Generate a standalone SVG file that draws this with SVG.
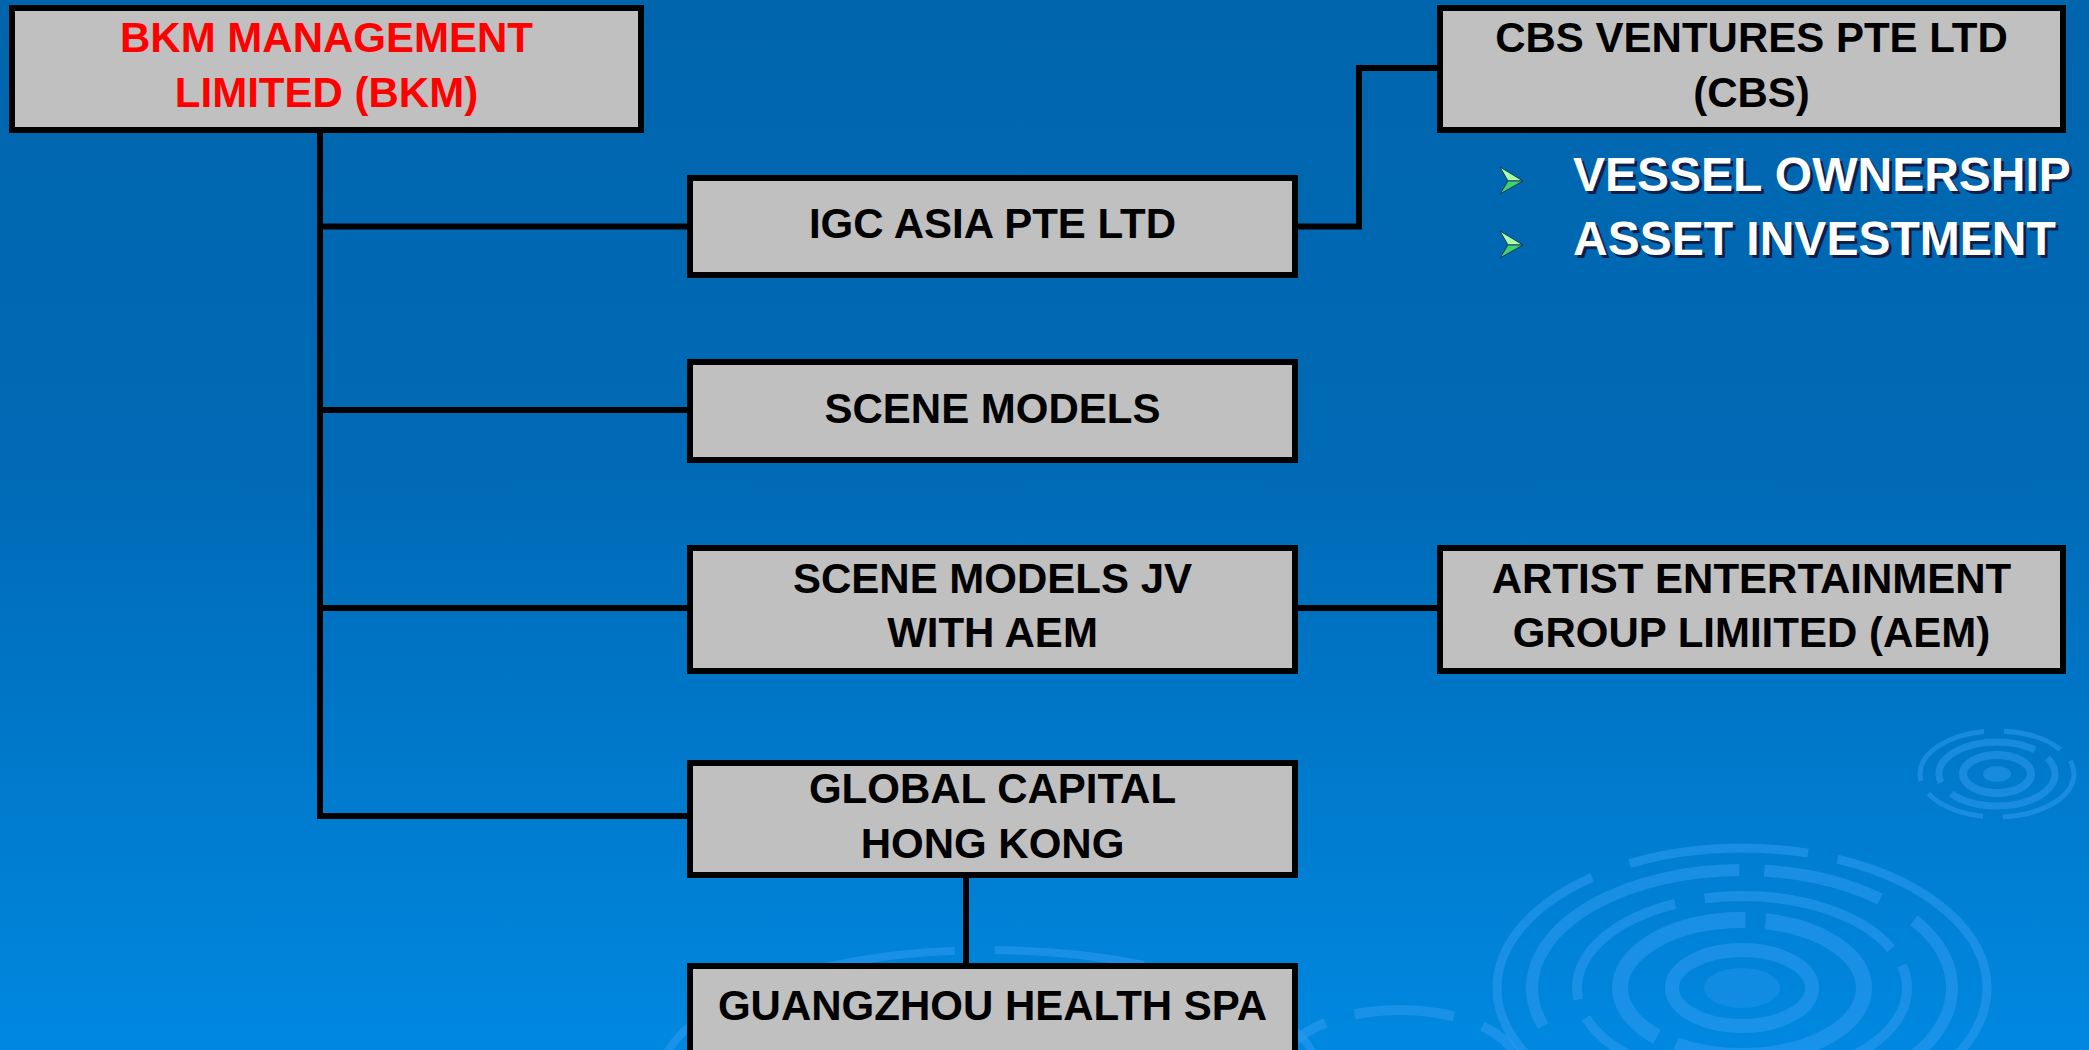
<svg xmlns="http://www.w3.org/2000/svg" width="2089" height="1050" viewBox="0 0 2089 1050">
<defs>
<linearGradient id="bg" x1="0" y1="0" x2="0" y2="1">
<stop offset="0" stop-color="#0065AD"/>
<stop offset="0.45" stop-color="#006AB6"/>
<stop offset="1" stop-color="#0088E0"/>
</linearGradient>
<style>
.box{fill:#C0C0C0;stroke:#000;stroke-width:6}
.lbl{font-family:"Liberation Sans",Arial,sans-serif;font-weight:bold;font-size:42px;text-anchor:middle;fill:#000}
.red{fill:#FF0000}
.conn{stroke:#000;stroke-width:6;fill:none;stroke-linejoin:miter}
.bul{font-family:"Liberation Sans",Arial,sans-serif;font-weight:bold;font-size:48px;fill:#FFFFFF}
.shd{fill:#0A1F4A}
.rip{fill:none;stroke:#2E9BF0;stroke-opacity:0.55}
.arT{fill:#A8FFA8;stroke:#1E3A5A;stroke-width:1}
.arB{fill:#40D070;stroke:#1E3A5A;stroke-width:1}
</style>
</defs>
<rect x="0" y="0" width="2089" height="1050" fill="url(#bg)"/>
<g id="ripples">
<ellipse class="rip" cx="1742" cy="988" rx="245" ry="140" stroke-width="9" stroke-dasharray="260 40 180 30"/>
<ellipse class="rip" cx="1742" cy="988" rx="210" ry="118" stroke-width="12" stroke-dasharray="300 25 120 40"/>
<ellipse class="rip" cx="1742" cy="988" rx="165" ry="92" stroke-width="10" stroke-dasharray="150 30 200 20"/>
<ellipse class="rip" cx="1742" cy="988" rx="122" ry="68" stroke-width="16" stroke-dasharray="220 20"/>
<ellipse class="rip" cx="1742" cy="988" rx="70" ry="38" stroke-width="14"/>
<ellipse cx="1742" cy="988" rx="38" ry="20" fill="#2E9BF0" fill-opacity="0.35"/>
<ellipse class="rip" cx="1997" cy="774" rx="77" ry="43" stroke-width="5" stroke-dasharray="90 20 60 15"/>
<ellipse class="rip" cx="1997" cy="774" rx="58" ry="32" stroke-width="7" stroke-dasharray="120 15"/>
<ellipse class="rip" cx="1997" cy="774" rx="34" ry="19" stroke-width="8"/>
<ellipse cx="1997" cy="774" rx="14" ry="8" fill="#2E9BF0" fill-opacity="0.5"/>
<ellipse class="rip" cx="990" cy="1080" rx="330" ry="130" stroke-width="8" stroke-dasharray="200 40 150 60"/>
<ellipse class="rip" cx="1400" cy="1070" rx="120" ry="60" stroke-width="10" stroke-dasharray="100 30"/>
</g>
<g id="connectors">
<path class="conn" d="M320,133 V816 H687"/>
<path class="conn" d="M320,226.5 H687"/>
<path class="conn" d="M320,410 H687"/>
<path class="conn" d="M320,608 H687"/>
<path class="conn" d="M1298,226.5 H1359 V68 H1437"/>
<path class="conn" d="M1298,608 H1437"/>
<path class="conn" d="M966,878 V963"/>
</g>
<g id="bkm">
<rect class="box" x="12" y="8" width="629" height="122"/>
<text class="lbl red" x="326.5" y="52">BKM MANAGEMENT</text>
<text class="lbl red" x="326.5" y="107">LIMITED (BKM)</text>
</g>
<g id="cbs">
<rect class="box" x="1440" y="8" width="623" height="122"/>
<text class="lbl" x="1751.5" y="52">CBS VENTURES PTE LTD</text>
<text class="lbl" x="1751.5" y="107">(CBS)</text>
</g>
<g id="cbs-bullets">
<polygon class="arT" points="1500,167 1523,181 1508,181"/>
<polygon class="arB" points="1508,181 1523,181 1500,194"/>
<text class="bul shd" x="1576" y="194">VESSEL OWNERSHIP</text>
<text class="bul" x="1573" y="191">VESSEL OWNERSHIP</text>
<polygon class="arT" points="1500,231 1523,245 1508,245"/>
<polygon class="arB" points="1508,245 1523,245 1500,258"/>
<text class="bul shd" x="1576" y="258">ASSET INVESTMENT</text>
<text class="bul" x="1573" y="255">ASSET INVESTMENT</text>
</g>
<g id="igc">
<rect class="box" x="690" y="178" width="605" height="97"/>
<text class="lbl" x="992.5" y="238">IGC ASIA PTE LTD</text>
</g>
<g id="scene-models">
<rect class="box" x="690" y="362" width="605" height="98"/>
<text class="lbl" x="992.5" y="423">SCENE MODELS</text>
</g>
<g id="scene-models-jv">
<rect class="box" x="690" y="548" width="605" height="123"/>
<text class="lbl" x="992.5" y="593">SCENE MODELS JV</text>
<text class="lbl" x="992.5" y="647">WITH AEM</text>
</g>
<g id="aem">
<rect class="box" x="1440" y="548" width="623" height="123"/>
<text class="lbl" x="1751.5" y="593">ARTIST ENTERTAINMENT</text>
<text class="lbl" x="1751.5" y="647">GROUP LIMIITED (AEM)</text>
</g>
<g id="global-capital">
<rect class="box" x="690" y="763" width="605" height="112"/>
<text class="lbl" x="992.5" y="803">GLOBAL CAPITAL</text>
<text class="lbl" x="992.5" y="858">HONG KONG</text>
</g>
<g id="guangzhou">
<rect class="box" x="690" y="966" width="605" height="110"/>
<text class="lbl" x="992.5" y="1020">GUANGZHOU HEALTH SPA</text>
</g>
</svg>
